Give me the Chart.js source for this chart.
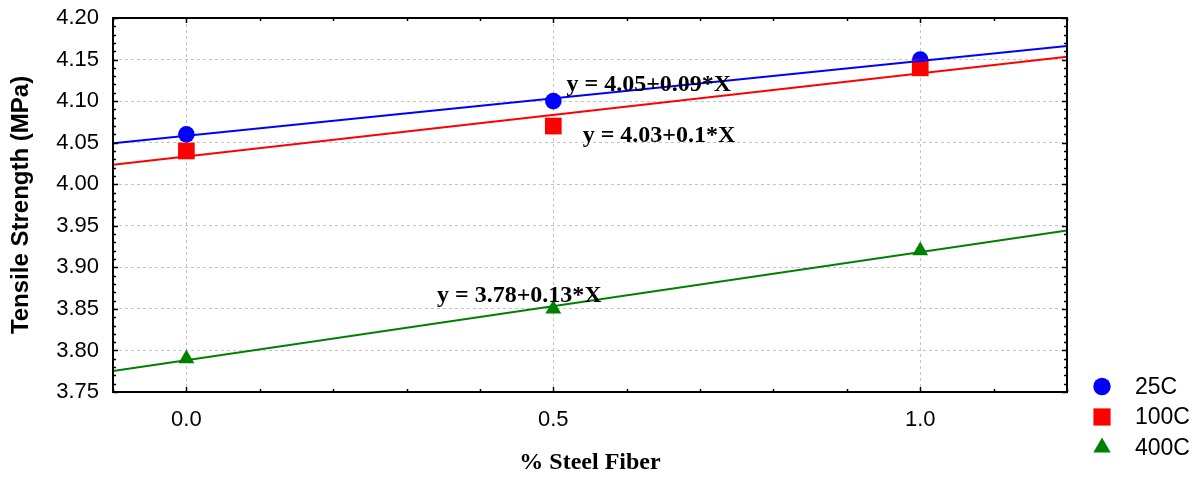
<!DOCTYPE html>
<html>
<head>
<meta charset="utf-8">
<script src="https://cdn.jsdelivr.net/npm/chart.js@4.4.1/dist/chart.umd.min.js"></script>
<style>
html, body { margin: 0; padding: 0; background: #fff; }
</style>
</head>
<body>
<canvas id="myChart" width="1200" height="480"></canvas>
<script>
// data
const fiber = [0.0, 0.5, 1.0];
const temp25 = [4.06, 4.10, 4.15];
const temp100 = [4.04, 4.07, 4.14];
const temp400 = [3.79, 3.85, 3.92];
const seriesNames = ['25C', '100C', '400C'];
const equations = ['y = 4.05+0.09*X', 'y = 4.03+0.1*X', 'y = 3.78+0.13*X'];
const xTickValues = [0.0, 0.5, 1.0];
const xTickLabels = ['0.0', '0.5', '1.0'];
const yTickValues = [3.75, 3.80, 3.85, 3.90, 3.95, 4.00, 4.05, 4.10, 4.15, 4.20];
const yTickLabels = ['3.75', '3.80', '3.85', '3.90', '3.95', '4.00', '4.05', '4.10', '4.15', '4.20'];

const X_MIN = -0.1, X_MAX = 1.2;
const colors = ['#0000ff', '#ff0000', '#008000'];
const styles = ['circle', 'rect', 'triangle'];
const radii = [8.3, 11.8, 9.2];
// where the equation text sits (data coords, left / baseline)
const equationPos = [{x: 0.518, y: 4.1116}, {x: 0.540, y: 4.0511}, {x: 0.3415, y: 3.8586}];

function findTick(values, v) {
  return values.findIndex(t => Math.abs(t - v) < 1e-6);
}

// least squares line through a series, drawn across the x range
function fitLine(xs, ys) {
  const n = xs.length;
  const mx = xs.reduce((a, b) => a + b, 0) / n;
  const my = ys.reduce((a, b) => a + b, 0) / n;
  let sxy = 0, sxx = 0;
  for (let i = 0; i < n; i++) {
    sxy += (xs[i] - mx) * (ys[i] - my);
    sxx += (xs[i] - mx) * (xs[i] - mx);
  }
  const b = sxy / sxx, a = my - b * mx;
  return [{x: X_MIN, y: a + b * X_MIN}, {x: X_MAX, y: a + b * X_MAX}];
}

const series = [temp25, temp100, temp400];
const pointSets = series.map((s, i) => ({
  type: 'scatter',
  label: seriesNames[i],
  data: fiber.map((f, j) => ({x: f, y: s[j]})),
  backgroundColor: colors[i],
  borderWidth: 0,
  pointStyle: styles[i],
  pointRadius: radii[i],
  order: i === 0 ? 2 : 1
}));
const lineSets = series.map((s, i) => ({
  type: 'line',
  label: 'fit ' + seriesNames[i],
  data: fitLine(fiber, s),
  borderColor: colors[i],
  borderWidth: 2,
  pointRadius: 0,
  fill: false,
  order: 0
}));

const frame = {
  id: 'frame',
  afterDatasetsDraw(chart) {
    const {ctx, scales: {x, y}} = chart;
    ctx.save();
    ctx.fillStyle = '#000';
    ctx.font = 'bold 24px "Liberation Serif", "Times New Roman", serif';
    ctx.textAlign = 'left';
    ctx.textBaseline = 'alphabetic';
    equations.forEach((t, i) => {
      ctx.fillText(t, x.getPixelForValue(equationPos[i].x), y.getPixelForValue(equationPos[i].y));
    });
    ctx.restore();
  },
  afterDraw(chart) {
    const {ctx, chartArea: a, scales: {x, y}} = chart;
    ctx.save();
    ctx.strokeStyle = '#000';
    ctx.lineWidth = 2;
    ctx.strokeRect(a.left, a.top, a.right - a.left, a.bottom - a.top);
    ctx.lineWidth = 1.5;
    ctx.beginPath();
    x.ticks.forEach(t => {
      const px = Math.round(x.getPixelForValue(t.value)) + 0.5;
      const len = findTick(xTickValues, t.value) >= 0 ? 5 : 3;
      ctx.moveTo(px, a.bottom); ctx.lineTo(px, a.bottom - len);
      ctx.moveTo(px, a.top); ctx.lineTo(px, a.top + len);
    });
    y.ticks.forEach(t => {
      const py = Math.round(y.getPixelForValue(t.value)) + 0.5;
      const len = findTick(yTickValues, t.value) >= 0 ? 5 : 3;
      ctx.moveTo(a.left, py); ctx.lineTo(a.left + len, py);
      ctx.moveTo(a.right, py); ctx.lineTo(a.right - len, py);
    });
    ctx.stroke();

    // legend
    const mx = a.right + 35, tx = a.right + 68;
    const rows = [a.bottom - 5.5, a.bottom + 25, a.bottom + 55.5];
    ctx.font = '23px "Liberation Sans", Arial, sans-serif';
    ctx.textAlign = 'left';
    ctx.textBaseline = 'middle';
    seriesNames.forEach((name, i) => {
      const cy = rows[i];
      ctx.fillStyle = colors[i];
      ctx.beginPath();
      if (styles[i] === 'circle') {
        ctx.arc(mx, cy, 8.7, 0, Math.PI * 2);
      } else if (styles[i] === 'rect') {
        ctx.rect(mx - 8.6, cy - 8.6, 17.2, 17.2);
      } else {
        const r = 10;
        ctx.moveTo(mx, cy - r);
        ctx.lineTo(mx + r * Math.sin(Math.PI * 2 / 3), cy + r / 2);
        ctx.lineTo(mx - r * Math.sin(Math.PI * 2 / 3), cy + r / 2);
        ctx.closePath();
      }
      ctx.fill();
      ctx.fillStyle = '#000';
      ctx.fillText(name, tx, cy + 1);
    });
    ctx.restore();
  }
};

const tickFont = {family: '"Liberation Sans", Arial, sans-serif', size: 22};

const ctx = document.getElementById('myChart').getContext('2d');
const myChart = new Chart(ctx, {
  type: 'scatter',
  data: { datasets: [...lineSets, ...pointSets] },
  options: {
    responsive: false,
    animation: false,
    events: [],
    layout: { padding: { left: 0, right: 133, top: 18, bottom: 0 } },
    plugins: { legend: { display: false }, tooltip: { enabled: false } },
    scales: {
      x: {
        type: 'linear',
        min: X_MIN,
        max: X_MAX,
        afterFit: s => { s.height = 88; s.paddingLeft = 0; s.paddingRight = 0; },
        ticks: {
          stepSize: 0.1,
          autoSkip: false,
          maxRotation: 0,
          padding: 15,
          color: '#000',
          font: tickFont,
          callback: v => {
            const i = findTick(xTickValues, v);
            return i >= 0 ? xTickLabels[i] : '';
          }
        },
        grid: {
          drawTicks: false,
          lineWidth: 1,
          color: c => (c.tick && findTick(xTickValues, c.tick.value) >= 0) ? '#c4c4c4' : 'rgba(0,0,0,0)'
        },
        border: { display: false, dash: [3, 3] },
        title: {
          display: true,
          text: '% Steel Fiber',
          color: '#000',
          font: {family: '"Liberation Serif", "Times New Roman", serif', size: 24, weight: 'bold'},
          padding: { top: 0, bottom: 3 }
        }
      },
      y: {
        min: 3.75,
        max: 4.2,
        afterFit: s => { s.width = 113; s.paddingTop = 0; s.paddingBottom = 0; },
        ticks: {
          stepSize: 0.01,
          autoSkip: false,
          padding: 14,
          color: '#000',
          font: tickFont,
          callback: v => {
            const i = findTick(yTickValues, v);
            return i >= 0 ? yTickLabels[i] : '';
          }
        },
        grid: {
          drawTicks: false,
          lineWidth: 1,
          color: c => (c.tick && findTick(yTickValues, c.tick.value) >= 0) ? '#c4c4c4' : 'rgba(0,0,0,0)'
        },
        border: { display: false, dash: [3, 3] },
        title: {
          display: true,
          text: 'Tensile Strength (MPa)',
          color: '#000',
          font: {family: '"Liberation Sans", Arial, sans-serif', size: 24, weight: 'bold'},
          padding: { top: 7, bottom: 0 }
        }
      }
    }
  },
  plugins: [frame]
});
</script>
</body>
</html>
